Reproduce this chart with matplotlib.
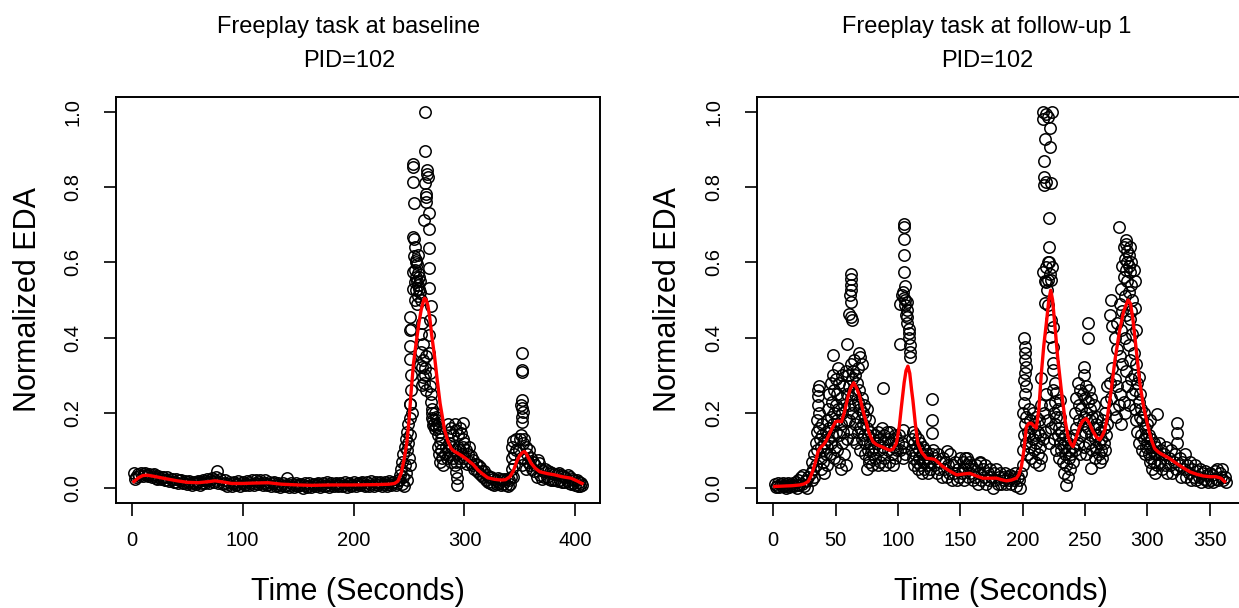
import matplotlib
matplotlib.use("Agg")
import matplotlib.pyplot as plt

# EDA samples (seconds, normalized EDA)
base_time = [
    2, 4, 6, 8, 10, 12, 14, 16, 18, 20, 22, 24, 26, 28, 30, 32, 34, 36, 38, 40,
    42, 44, 46, 48, 50, 52, 54, 56, 58, 60, 62, 64, 66, 68, 70, 72, 74, 76, 78, 80,
    82, 84, 86, 88, 90, 92, 94, 96, 98, 100, 102, 104, 106, 108, 110, 112, 114, 116, 118, 120,
    122, 124, 126, 128, 130, 132, 134, 136, 138, 140, 142, 144, 146, 148, 150, 152, 154, 156, 158, 160,
    162, 164, 166, 168, 170, 172, 174, 176, 178, 180, 182, 184, 186, 188, 190, 192, 194, 196, 198, 200,
    202, 204, 206, 208, 210, 212, 214, 216, 218, 220, 222, 224, 226, 228, 230, 232, 234, 236, 238, 240,
    3, 7, 11, 15, 19, 23, 27, 31, 35, 39, 43, 47, 51, 55, 59, 63, 67, 71, 75, 77,
    83, 87, 91, 95, 99, 103, 107, 111, 115, 119, 123, 127, 131, 135, 139, 143, 147, 151, 155, 159,
    163, 167, 171, 175, 179, 183, 187, 191, 195, 199, 203, 207, 211, 215, 219, 223, 227, 231, 235, 239,
    241, 242, 243, 243.5, 244, 244.5, 245, 245.5, 246, 246.5,
    247, 247.5, 248, 248, 248.5, 249, 249.5, 250, 250.5, 250.5,
    251, 251, 250.5, 251, 251, 251.5, 250.5, 252, 252, 252.5,
    253.6, 254.0, 253.6, 254.5, 253.6, 254.2, 254.6, 256.0, 257.6, 253.6,
    258, 259, 255, 258, 256.5, 260, 258, 255, 256, 257,
    254, 255.5, 257, 259, 260, 261, 256, 258, 255, 264.7,
    264.7, 266.5, 266.5, 266.8, 264.0, 265.5, 265.5, 265.5, 267.7, 263.5,
    267.7, 267.7, 267.7, 268, 269.6, 261.5, 260.5, 262.5, 260.5, 262,
    260, 262.5, 262, 269, 268, 268, 269, 263, 264, 265,
    264.5, 263.5, 265, 250.8, 270, 271, 272, 273, 269, 270,
    270.5, 271, 271.5, 272.5, 273, 274, 274.5, 275, 276, 277,
    278, 276, 279, 277.5, 276, 277, 278, 279, 280, 281,
    282, 283, 284, 285, 286, 285, 286.5, 288, 290, 291,
    292, 294, 296, 298.7, 297, 299, 300, 292.7, 293, 293,
    291, 287, 288, 289, 290, 291, 292, 293, 294, 295,
    296, 297, 298, 299, 300, 301, 302, 303, 304, 305,
    306, 307, 308, 309, 310, 311, 312, 313, 314, 315,
    316,
    317, 318, 319, 320, 321, 322, 323, 324, 325, 326,
    327, 328, 329, 330, 331, 332, 333, 334, 335, 336,
    337, 338, 339, 340, 341, 342, 342.5, 343, 343, 343.5,
    344, 344.5, 345, 346, 346, 352, 351.5, 352, 352, 351,
    352, 352.5, 351.5, 352, 350, 351, 353, 354, 355, 349,
    350.5, 352, 353.5, 355, 356, 357, 358, 359, 360, 361,
    362, 363, 364, 365, 366, 367, 368, 369, 370, 371,
    372, 373, 374, 375, 376, 377, 378, 379, 380, 381,
    382, 383, 384, 385, 386, 387, 388, 389, 390, 391,
    392, 393, 394, 395, 396, 397, 398, 399, 400, 401,
    402, 403, 404, 405, 406,
]
base_eda = [
    0.040, 0.030, 0.036, 0.040, 0.032, 0.041, 0.034, 0.038, 0.030, 0.036, 0.027, 0.033, 0.024, 0.030, 0.021, 0.028, 0.019, 0.025, 0.017, 0.023,
    0.014, 0.021, 0.012, 0.019, 0.010, 0.018, 0.008, 0.017, 0.011, 0.019, 0.009, 0.021, 0.012, 0.024, 0.014, 0.026, 0.016, 0.030, 0.013, 0.024,
    0.010, 0.020, 0.006, 0.017, 0.005, 0.016, 0.008, 0.019, 0.004, 0.015, 0.007, 0.019, 0.009, 0.020, 0.008, 0.021, 0.010, 0.022, 0.009, 0.020,
    0.007, 0.017, 0.005, 0.016, 0.004, 0.014, 0.002, 0.013, 0.004, 0.026, 0.003, 0.012, 0.002, 0.013, 0.004, 0.011, 0.001, 0.012, 0.003, 0.013,
    0.002, 0.011, 0.004, 0.014, 0.003, 0.012, 0.005, 0.015, 0.003, 0.013, 0.006, 0.014, 0.004, 0.012, 0.005, 0.015, 0.003, 0.013, 0.006, 0.016,
    0.004, 0.014, 0.007, 0.017, 0.005, 0.015, 0.006, 0.018, 0.005, 0.016, 0.007, 0.017, 0.005, 0.015, 0.006, 0.018, 0.007, 0.017, 0.008, 0.020,
    0.025, 0.033, 0.037, 0.031, 0.034, 0.025, 0.029, 0.020, 0.024, 0.016, 0.020, 0.013, 0.016, 0.012, 0.015, 0.013, 0.019, 0.020, 0.022, 0.045,
    0.013, 0.011, 0.014, 0.010, 0.013, 0.011, 0.014, 0.012, 0.016, 0.013, 0.011, 0.012, 0.009, 0.008, 0.009, 0.007, 0.008, 0.007, 0.009, 0.006,
    0.008, 0.010, 0.007, 0.009, 0.008, 0.010, 0.008, 0.009, 0.011, 0.009, 0.010, 0.012, 0.009, 0.011, 0.010, 0.012, 0.010, 0.011, 0.013, 0.012,
    0.020, 0.035, 0.050, 0.010, 0.070, 0.030, 0.090, 0.005, 0.110, 0.060,
    0.130, 0.040, 0.150, 0.100, 0.020, 0.120, 0.170, 0.080, 0.224, 0.140,
    0.185, 0.060, 0.342, 0.378, 0.420, 0.424, 0.455, 0.300, 0.260, 0.200,
    0.861, 0.854, 0.814, 0.757, 0.668, 0.661, 0.617, 0.606, 0.595, 0.575,
    0.572, 0.561, 0.548, 0.539, 0.526, 0.522, 0.510, 0.580, 0.560, 0.550,
    0.530, 0.500, 0.490, 0.530, 0.550, 0.500, 0.600, 0.620, 0.640, 1.000,
    0.896, 0.845, 0.836, 0.827, 0.810, 0.783, 0.774, 0.761, 0.732, 0.714,
    0.690, 0.639, 0.584, 0.531, 0.484, 0.438, 0.410, 0.384, 0.362, 0.322,
    0.327, 0.296, 0.274, 0.446, 0.407, 0.358, 0.305, 0.340, 0.320, 0.350,
    0.300, 0.280, 0.260, 0.224, 0.229, 0.185, 0.167, 0.158, 0.270, 0.250,
    0.210, 0.200, 0.180, 0.170, 0.200, 0.190, 0.165, 0.180, 0.170, 0.160,
    0.150, 0.140, 0.130, 0.120, 0.110, 0.090, 0.070, 0.100, 0.080, 0.060,
    0.090, 0.110, 0.080, 0.100, 0.120, 0.170, 0.150, 0.160, 0.140, 0.170,
    0.155, 0.140, 0.160, 0.172, 0.145, 0.130, 0.120, 0.043, 0.026, 0.008,
    0.060, 0.090, 0.070, 0.110, 0.080, 0.100, 0.070, 0.090, 0.110, 0.080,
    0.100, 0.070, 0.090, 0.110, 0.080, 0.100, 0.065, 0.090, 0.110, 0.070,
    0.085, 0.060, 0.075, 0.050, 0.065, 0.045, 0.060, 0.040, 0.055, 0.035,
    0.045,
    0.030, 0.045, 0.020, 0.035, 0.015, 0.030, 0.012, 0.028, 0.010, 0.025,
    0.008, 0.022, 0.010, 0.026, 0.012, 0.024, 0.009, 0.022, 0.010, 0.025,
    0.008, 0.023, 0.005, 0.020, 0.010, 0.030, 0.050, 0.080, 0.110, 0.125,
    0.030, 0.090, 0.060, 0.100, 0.130, 0.358, 0.314, 0.309, 0.234, 0.220,
    0.212, 0.203, 0.190, 0.175, 0.130, 0.140, 0.120, 0.130, 0.110, 0.100,
    0.080, 0.060, 0.080, 0.050, 0.090, 0.070, 0.100, 0.060, 0.080, 0.050,
    0.070, 0.045, 0.060, 0.030, 0.074, 0.066, 0.035, 0.050, 0.025, 0.045,
    0.030, 0.050, 0.028, 0.045, 0.025, 0.042, 0.022, 0.040, 0.020, 0.038,
    0.020, 0.036, 0.018, 0.040, 0.020, 0.035, 0.016, 0.032, 0.015, 0.030,
    0.018, 0.035, 0.012, 0.028, 0.010, 0.025, 0.012, 0.020, 0.008, 0.020,
    0.005, 0.016, 0.006, 0.014, 0.008,
]

# smoothed curve (red) for baseline
base_fit_time = [2, 6, 10, 14, 20, 30, 41, 50, 60, 70, 75, 80, 90, 100, 110, 123, 135, 150, 162, 180,
                 200, 222, 232, 237, 240, 243, 245.5, 248, 250, 252, 254, 256.6, 259, 261, 263, 264, 265.5, 267, 268.6, 270.5,
                 273, 275.5, 278, 280, 282, 285, 288, 291, 294, 298, 303, 308, 312, 316, 321, 327, 333, 337, 341, 344,
                 347, 349.5, 352, 354, 356, 358, 360, 364, 368, 375, 381, 388, 396, 402, 406]
base_fit_eda = [0.017, 0.027, 0.033, 0.034, 0.031, 0.025, 0.019, 0.015, 0.014, 0.017, 0.019, 0.017, 0.012, 0.012, 0.013, 0.014, 0.010, 0.008, 0.007, 0.008,
                0.008, 0.009, 0.010, 0.012, 0.018, 0.040, 0.075, 0.120, 0.180, 0.260, 0.330, 0.390, 0.440, 0.475, 0.497, 0.505, 0.500, 0.485, 0.455, 0.405,
                0.350, 0.285, 0.225, 0.190, 0.154, 0.125, 0.105, 0.097, 0.092, 0.085, 0.074, 0.062, 0.048, 0.038, 0.027, 0.023, 0.021, 0.022, 0.030, 0.045,
                0.070, 0.085, 0.094, 0.097, 0.090, 0.078, 0.066, 0.052, 0.043, 0.038, 0.035, 0.030, 0.026, 0.018, 0.012]

# EDA samples
fu_time = [
    1.5, 2, 3, 4, 5, 6, 7, 8, 9, 10,
    10.5, 11, 12, 13, 14, 15, 16, 17, 18, 19,
    19.5, 20, 21, 22, 23, 24, 25, 26, 26.5, 27,
    28,
    30, 31, 31.5, 32, 33, 33, 34, 34.5, 35, 35,
    35.5, 36, 36, 36.5, 36, 37, 37, 37.5, 38, 38,
    38.5, 39, 39.5, 40, 40, 41, 41, 42, 42, 43,
    43, 43.5, 44, 44, 45, 45, 45.5, 46, 46, 46.5,
    47, 47, 48, 48, 48, 48.5, 49, 49, 49.5, 50,
    50, 50, 51, 51, 51.5, 52, 52, 52.5, 53, 53,
    54, 54, 54, 55, 55, 55.5, 56, 56, 57, 57,
    58, 58, 58, 59, 59, 59.3, 62, 62, 62, 62,
    61.5, 62, 60.5, 62, 63,
    60, 60.5, 61, 61, 62, 62, 62.5, 63, 63, 64,
    64, 64, 65, 65, 65.5, 66, 66, 66.5, 67, 67,
    68, 68, 68, 69, 69, 69.5, 70, 70, 70, 71,
    71, 71.5, 72, 72, 73, 73, 73.5, 74, 74, 75,
    75, 76, 76, 77, 77, 78, 78, 79, 79, 80,
    80, 75, 77,
    81, 82, 82, 83, 84, 84, 85, 86, 86, 87,
    88, 88, 89, 89, 90, 90, 91, 92, 92, 93,
    94, 94, 95, 96, 96, 97, 98, 98, 99, 100,
    105, 105, 105, 105, 105, 105.5, 103.5, 104.5, 107, 105.5,
    102, 107, 107, 107, 108.5, 108.5, 108.5, 109.5, 109.5, 109.5,
    101.5, 104, 106, 106.5,
    101, 102, 103, 104, 104, 105, 106, 111, 111, 112,
    112, 113, 113, 114, 114, 115, 115, 116, 116, 117,
    117, 118, 118, 119, 119, 120, 120, 121, 121, 122,
    123, 123, 124, 124, 125, 126, 127, 127, 127, 127,
    128, 129, 130, 131, 132, 133, 134, 135, 136, 137,
    138, 139, 140, 141, 142, 143, 144, 145, 146, 147,
    148, 149, 150, 151, 152, 153, 154, 155, 156, 157,
    158, 159, 160, 161, 162, 163, 164, 165, 166, 167,
    168, 169, 170, 171, 172, 173, 174, 175, 176, 177,
    178, 179, 180, 181, 182, 183, 184, 185, 186, 187,
    188, 189, 190, 191, 192, 193, 194, 195, 196, 197,
    198, 199, 139, 154, 155, 165.6,
    200, 200.5, 201, 201, 201.5, 202, 202, 202.5, 202, 201,
    203, 202, 201, 200, 203, 202, 204, 203, 204, 205,
    205, 206, 206, 207, 207, 208, 208, 209, 209, 210,
    210, 211, 211, 212, 212, 213, 213, 214, 214, 215,
    215, 216,
    216.4, 219.1, 223.9, 216.4, 220.4, 221.7, 217.7, 222.3, 217, 217,
    219.1, 223.1, 217, 221.2, 221.2, 221.2, 219.1, 223.9, 216.4, 220.4,
    219.1, 223.1, 219.6, 218.3, 220.4, 223.1, 224.4, 221.7, 224.4, 215.1,
    224.4, 224.4, 225.7, 227, 229.7, 218, 222, 220,
    217, 218, 219, 220, 221, 222, 223, 224, 225, 225,
    226, 226, 227, 227, 228, 228, 229, 229, 230, 230,
    231, 231, 232, 232, 233, 233, 234, 234, 235, 235,
    236, 236, 237, 237, 238, 238, 239, 240, 240, 241,
    242, 242, 243, 243, 244, 244, 245, 245, 246, 246,
    247, 247, 248, 248, 249, 249, 249, 249, 250, 250,
    251, 251, 251, 252, 252, 252, 252, 253, 253, 254,
    254, 255, 255, 255, 256, 256, 257, 257, 258, 258,
    259, 259, 260, 260, 261, 261, 262, 262, 263, 263,
    264, 264, 265, 265, 266, 266, 267, 267, 268, 268,
    277, 283, 284, 286, 285, 282, 287, 280, 283, 286,
    281, 284, 287, 279, 285, 282, 288, 278, 280, 283,
    286, 276, 279, 282, 285, 288, 274, 276, 278, 280,
    283, 286, 289, 272, 274, 276, 278, 281, 284, 287,
    270, 271, 273, 275, 277, 279, 282, 285, 288, 290,
    290, 291, 289, 284, 281, 283, 285, 287, 270, 271,
    272,
    289, 290, 290, 291, 291, 292, 292, 293, 293, 293,
    294, 294, 295, 295, 296, 296, 297, 297, 298, 298,
    299, 299, 300, 300, 301, 301, 302, 302, 303, 303,
    304, 304, 305, 305, 306, 306, 307, 307.7, 308, 308,
    302,
    309, 310, 311, 312, 313, 314, 315, 316, 317, 318,
    319, 320, 321, 322, 323, 324, 324, 324, 325, 326,
    327, 328, 329, 330, 331, 332, 333, 334, 335, 336,
    337, 338, 339, 340, 341, 342, 343, 344, 345, 346,
    347, 348, 349, 350, 351, 352, 353, 354, 355, 356,
    357, 358, 359, 360, 361, 362, 363,
]
fu_eda = [
    0.010, 0.002, 0.005, 0.012, 0.003, 0.010, 0.006, 0.013, 0.004, 0.011,
    0.000, 0.006, 0.014, 0.002, 0.010, 0.005, 0.012, 0.004, 0.016, 0.007,
    0.000, 0.020, 0.008, 0.030, 0.010, 0.035, 0.006, 0.022, 0.018, 0.000,
    0.030,
    0.04, 0.02, 0.07, 0.05, 0.09, 0.03, 0.12, 0.06, 0.15, 0.10,
    0.18, 0.22, 0.26, 0.27, 0.245, 0.20, 0.16, 0.13, 0.08, 0.05,
    0.11, 0.14, 0.17, 0.10, 0.07, 0.12, 0.04, 0.09, 0.15, 0.11,
    0.06, 0.18, 0.13, 0.21, 0.25, 0.16, 0.09, 0.28, 0.19, 0.12,
    0.23, 0.14, 0.355, 0.30, 0.17, 0.08, 0.26, 0.20, 0.11, 0.29,
    0.22, 0.15, 0.25, 0.18, 0.10, 0.32, 0.21, 0.14, 0.28, 0.07,
    0.24, 0.17, 0.05, 0.30, 0.20, 0.12, 0.27, 0.15, 0.22, 0.09,
    0.31, 0.18, 0.06, 0.25, 0.13, 0.384, 0.57, 0.557, 0.539, 0.526,
    0.513, 0.495, 0.464, 0.455, 0.446,
    0.30, 0.22, 0.27, 0.18, 0.33, 0.24, 0.15, 0.29, 0.20, 0.31,
    0.26, 0.13, 0.34, 0.22, 0.17, 0.30, 0.25, 0.12, 0.28, 0.19,
    0.32, 0.23, 0.15, 0.358, 0.26, 0.10, 0.349, 0.21, 0.16, 0.33,
    0.24, 0.13, 0.20, 0.17, 0.22, 0.14, 0.09, 0.19, 0.12, 0.16,
    0.21, 0.10, 0.14, 0.18, 0.08, 0.12, 0.15, 0.10, 0.06, 0.13,
    0.09, 0.05, 0.07,
    0.11, 0.14, 0.08, 0.12, 0.15, 0.06, 0.10, 0.13, 0.07, 0.16,
    0.265, 0.11, 0.14, 0.08, 0.12, 0.06, 0.15, 0.10, 0.13, 0.07,
    0.12, 0.15, 0.09, 0.13, 0.06, 0.11, 0.14, 0.08, 0.10, 0.12,
    0.703, 0.694, 0.663, 0.619, 0.575, 0.537, 0.513, 0.504, 0.495, 0.486,
    0.49, 0.473, 0.455, 0.438, 0.424, 0.411, 0.398, 0.38, 0.362, 0.349,
    0.384, 0.52, 0.50, 0.46,
    0.14, 0.10, 0.12, 0.154, 0.08, 0.11, 0.09, 0.13, 0.10, 0.15,
    0.08, 0.12, 0.06, 0.14, 0.09, 0.11, 0.07, 0.13, 0.05, 0.10,
    0.08, 0.12, 0.06, 0.09, 0.04, 0.11, 0.07, 0.08, 0.05, 0.10,
    0.06, 0.09, 0.04, 0.08, 0.07, 0.05, 0.236, 0.181, 0.147, 0.09,
    0.10, 0.06, 0.08, 0.04, 0.09, 0.05, 0.07, 0.03, 0.08, 0.05,
    0.07, 0.03, 0.06, 0.04, 0.09, 0.02, 0.06, 0.04, 0.07, 0.02,
    0.05, 0.03, 0.08, 0.04, 0.07, 0.02, 0.05, 0.06, 0.03, 0.07,
    0.04, 0.06, 0.02, 0.05, 0.03, 0.06, 0.01, 0.04, 0.07, 0.02,
    0.05, 0.03, 0.06, 0.01, 0.04, 0.02, 0.05, 0.03, 0.00, 0.04,
    0.02, 0.05, 0.01, 0.03, 0.04, 0.01, 0.03, 0.02, 0.04, 0.01,
    0.03, 0.02, 0.035, 0.01, 0.03, 0.02, 0.04, 0.005, 0.03, 0.02,
    0.00, 0.04, 0.097, 0.079, 0.079, 0.066,
    0.06, 0.10, 0.14, 0.398, 0.376, 0.358, 0.34, 0.322, 0.305, 0.287,
    0.27, 0.251, 0.225, 0.20, 0.19, 0.17, 0.15, 0.12, 0.09, 0.21,
    0.14, 0.18, 0.11, 0.16, 0.08, 0.20, 0.13, 0.10, 0.17, 0.07,
    0.14, 0.19, 0.12, 0.09, 0.15, 0.06, 0.18, 0.11, 0.14, 0.08,
    0.22, 0.13,
    1.000, 0.996, 1.000, 0.982, 0.987, 0.958, 0.929, 0.907, 0.870, 0.828,
    0.814, 0.810, 0.805, 0.717, 0.642, 0.602, 0.588, 0.588, 0.575, 0.553,
    0.549, 0.553, 0.526, 0.491, 0.486, 0.446, 0.428, 0.402, 0.376, 0.292,
    0.332, 0.314, 0.278, 0.252, 0.234, 0.55, 0.57, 0.60,
    0.20, 0.15, 0.25, 0.18, 0.12, 0.22, 0.16, 0.26, 0.20, 0.13,
    0.23, 0.17, 0.10, 0.19, 0.14, 0.21, 0.08, 0.16, 0.12, 0.19,
    0.10, 0.15, 0.07, 0.13, 0.11, 0.04, 0.09, 0.14, 0.008, 0.06,
    0.12, 0.03, 0.08, 0.10, 0.05, 0.13, 0.09, 0.11, 0.07, 0.14,
    0.20, 0.10, 0.24, 0.16, 0.28, 0.12, 0.22, 0.18, 0.26, 0.09,
    0.21, 0.14, 0.25, 0.17, 0.322, 0.30, 0.19, 0.11, 0.24, 0.15,
    0.27, 0.20, 0.09, 0.438, 0.398, 0.23, 0.16, 0.26, 0.12, 0.21,
    0.18, 0.052, 0.14, 0.24, 0.19, 0.10, 0.16, 0.22, 0.13, 0.08,
    0.17, 0.11, 0.14, 0.19, 0.09, 0.12, 0.15, 0.07, 0.13, 0.10,
    0.18, 0.08, 0.16, 0.12, 0.20, 0.10, 0.23, 0.14, 0.27, 0.17,
    0.694, 0.65, 0.63, 0.64, 0.62, 0.61, 0.60, 0.59, 0.58, 0.575,
    0.56, 0.55, 0.54, 0.53, 0.52, 0.51, 0.50, 0.49, 0.47, 0.46,
    0.45, 0.44, 0.42, 0.40, 0.38, 0.41, 0.40, 0.37, 0.35, 0.33,
    0.31, 0.34, 0.36, 0.32, 0.29, 0.27, 0.25, 0.23, 0.27, 0.29,
    0.28, 0.24, 0.21, 0.19, 0.22, 0.17, 0.20, 0.22, 0.25, 0.55,
    0.48, 0.42, 0.58, 0.60, 0.64, 0.66, 0.59, 0.47, 0.46, 0.50,
    0.43,
    0.30, 0.26, 0.21, 0.33, 0.18, 0.28, 0.15, 0.296, 0.23, 0.12,
    0.25, 0.19, 0.21, 0.14, 0.18, 0.10, 0.20, 0.13, 0.16, 0.09,
    0.14, 0.11, 0.12, 0.17, 0.09, 0.14, 0.11, 0.07, 0.13, 0.08,
    0.10, 0.05, 0.12, 0.07, 0.09, 0.04, 0.11, 0.198, 0.06, 0.09,
    0.18,
    0.12, 0.07, 0.10, 0.05, 0.09, 0.06, 0.11, 0.04, 0.08, 0.06,
    0.10, 0.04, 0.07, 0.09, 0.05, 0.172, 0.145, 0.12, 0.06, 0.08,
    0.03, 0.07, 0.05, 0.09, 0.03, 0.06, 0.04, 0.07, 0.02, 0.05,
    0.03, 0.06, 0.02, 0.045, 0.03, 0.05, 0.015, 0.04, 0.025, 0.045,
    0.02, 0.035, 0.015, 0.04, 0.02, 0.035, 0.015, 0.045, 0.025, 0.05,
    0.02, 0.04, 0.03, 0.05, 0.02, 0.03, 0.015,
]

# smoothed curve (red) for follow-up 1
fu_fit_time = [1.3, 8, 15, 21.4, 25, 28, 30, 32, 34, 36, 38, 40, 42, 44, 47, 50, 52, 54.8, 57, 60,
               62, 64.6, 67, 69.4, 72, 74.8, 77, 80, 83, 86.8, 90, 93.5, 96, 98.8, 101, 102.8, 105, 106.5, 108, 109.5,
               111, 112, 114, 116, 119, 123, 126, 129.5, 133, 136, 141, 147, 152, 157.6, 163, 168, 174, 179, 183, 187,
               191, 195, 197, 199, 201, 203, 205, 207, 209, 211, 213, 215, 217, 219, 221, 222.5, 224, 225.7, 228, 231,
               234, 236.4, 238.5, 240.4, 243, 245.7, 248, 251, 253.5, 256.4, 259, 261.8, 264, 265.8, 268, 271, 274, 277.8, 281, 284.5,
               286.5, 288.5, 291, 294, 297, 300.5, 303, 305.8, 309, 312.5, 318, 323, 328, 334, 340, 344.6, 350, 355, 359, 361.9]
fu_fit_eda = [0.004, 0.005, 0.006, 0.008, 0.011, 0.017, 0.030, 0.048, 0.070, 0.097, 0.108, 0.114, 0.123, 0.136, 0.157, 0.176, 0.178, 0.176, 0.200, 0.243,
              0.265, 0.280, 0.265, 0.243, 0.205, 0.172, 0.145, 0.123, 0.115, 0.110, 0.105, 0.100, 0.103, 0.119, 0.160, 0.216, 0.280, 0.312, 0.324, 0.305,
              0.260, 0.234, 0.170, 0.119, 0.095, 0.079, 0.078, 0.076, 0.066, 0.057, 0.046, 0.035, 0.037, 0.039, 0.032, 0.026, 0.026, 0.026, 0.022, 0.019,
              0.021, 0.026, 0.036, 0.057, 0.100, 0.163, 0.172, 0.172, 0.165, 0.159, 0.210, 0.305, 0.380, 0.438, 0.500, 0.526, 0.500, 0.438, 0.350, 0.260,
              0.180, 0.136, 0.118, 0.110, 0.135, 0.163, 0.178, 0.185, 0.172, 0.150, 0.136, 0.128, 0.140, 0.154, 0.190, 0.260, 0.340, 0.420, 0.470, 0.500,
              0.490, 0.446, 0.370, 0.278, 0.215, 0.163, 0.130, 0.105, 0.095, 0.088, 0.078, 0.066, 0.055, 0.043, 0.036, 0.032, 0.030, 0.030, 0.026, 0.017]

yticks = [0.0, 0.2, 0.4, 0.6, 0.8, 1.0]
base_xticks = [0, 100, 200, 300, 400]
fu_xticks = [0, 50, 100, 150, 200, 250, 300, 350]

assert len(base_time) == len(base_eda)
assert len(fu_time) == len(fu_eda)
assert len(base_fit_time) == len(base_fit_eda)
assert len(fu_fit_time) == len(fu_fit_eda)

plt.rcParams['font.family'] = ['Liberation Sans', 'DejaVu Sans']

W, H = 1239, 608
fig = plt.figure(figsize=(W / 100, H / 100), dpi=100)


def px(x, y):
    # pixel position (from top-left) -> figure fraction
    return x / W, 1 - y / H


def panel(x0, x1, t, v, ft, fv, xticks, title, title_x, ylab_x):
    ax = fig.add_axes([x0 / W, 1 - 503 / H, (x1 - x0) / W, 406 / H])
    ax.plot(t, v, 'o', mfc='none', mec='black', ms=8.2, mew=1.1)
    ax.plot(ft, fv, color='red', lw=2.4, solid_joinstyle='round')
    span = max(t) - min(t)
    ax.set_xlim(min(t) - 0.04 * span, max(t) + 0.04 * span)
    ax.set_ylim(-0.04, 1.04)
    ax.set_xticks(xticks)
    ax.set_xticklabels([str(x) for x in xticks], fontsize=14.5)
    ax.set_yticks(yticks)
    ax.set_yticklabels(['%.1f' % y for y in yticks], fontsize=14.5,
                       rotation=90, va='center')
    ax.tick_params(axis='x', length=9, width=1.2, pad=11)
    ax.tick_params(axis='y', length=9, width=1.2, pad=15)
    for s in ax.spines.values():
        s.set_linewidth(1.4)
    fig.text(*px(title_x, 33), title, ha='center', va='baseline', fontsize=17)
    fig.text(*px(title_x, 67), 'PID=102', ha='center', va='baseline', fontsize=17)
    fig.text(*px((x0 + x1) / 2, 600), 'Time (Seconds)', ha='center', va='baseline', fontsize=22)
    fig.text(*px(ylab_x, 300), 'Normalized EDA', ha='center', va='center',
             rotation=90, fontsize=22)
    return ax


panel(116, 600, base_time, base_eda, base_fit_time, base_fit_eda, base_xticks,
      'Freeplay task at baseline', 349, 28)
panel(757, 1244, fu_time, fu_eda, fu_fit_time, fu_fit_eda, fu_xticks,
      'Freeplay task at follow-up 1', 987, 668)

fig.savefig('out.png', dpi=100)
